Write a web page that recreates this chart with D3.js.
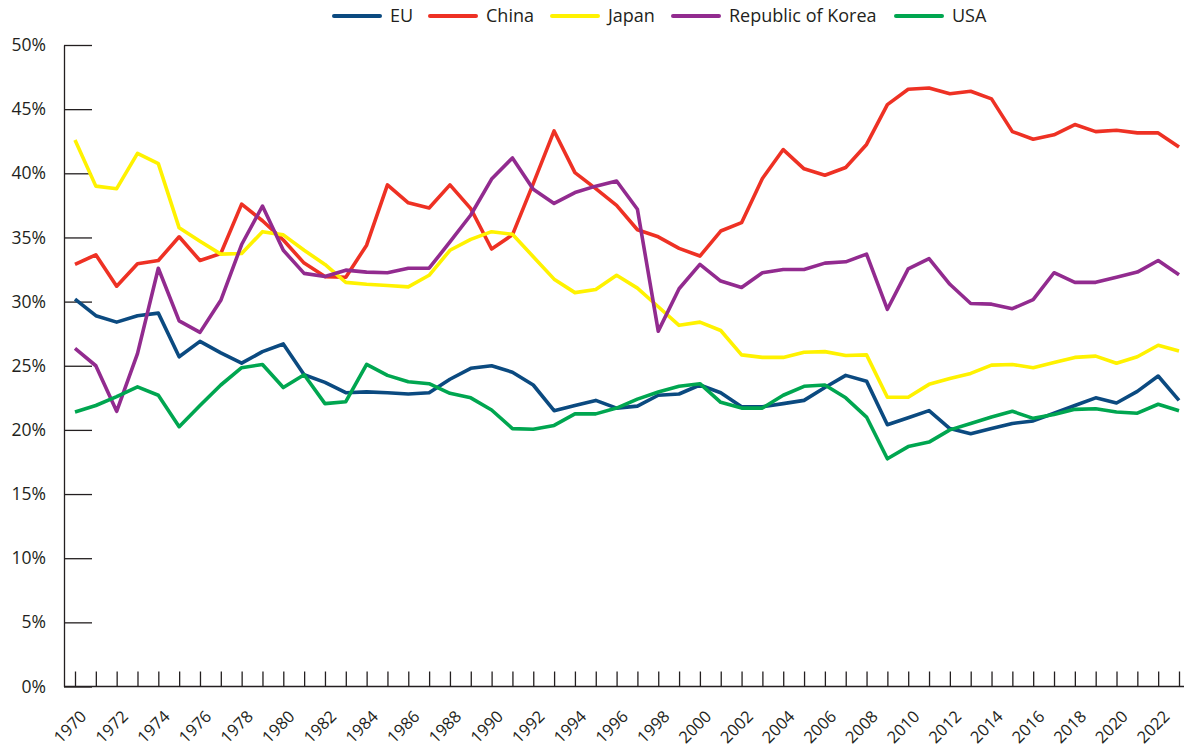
<!DOCTYPE html>
<html>
<head>
<meta charset="utf-8">
<script src="https://cdn.jsdelivr.net/npm/d3@7"></script>
<style>
body { margin: 0; background: #fff; }
svg { display: block; font-family: "Open Sans", sans-serif; }
</style>
</head>
<body>
<div id="chart"></div>
<script>
var W = 1184, H = 749;

var years = d3.range(1970, 2024);

var yTicks = [0, 5, 10, 15, 20, 25, 30, 35, 40, 45, 50];

var eu = [30.2, 28.9, 28.4, 28.9, 29.1, 25.7, 26.9, 26.0, 25.2, 26.1, 26.7, 24.3, 23.7, 22.9,
          22.96, 22.9, 22.8, 22.9, 23.95, 24.8, 25.0, 24.5, 23.5, 21.5, 21.9, 22.3, 21.7,
          21.85, 22.7, 22.8, 23.5, 22.9, 21.8, 21.8, 22.05, 22.3, 23.3, 24.25, 23.8, 20.4,
          20.95, 21.5, 20.1, 19.7, 20.1, 20.5, 20.7, 21.3, 21.9, 22.5, 22.1, 23.0, 24.2, 22.3];

var china = [32.9, 33.65, 31.2, 32.95, 33.2, 35.05, 33.2, 33.75, 37.6, 36.3, 34.8, 33.0, 31.95, 31.9,
             34.4, 39.1, 37.7, 37.3, 39.1, 37.25, 34.1, 35.2, 39.2, 43.3, 40.05, 38.8, 37.5,
             35.6, 35.05, 34.15, 33.55, 35.5, 36.15, 39.6, 41.85, 40.35, 39.85, 40.45, 42.25, 45.35,
             46.55, 46.65, 46.2, 46.4, 45.8, 43.25, 42.65, 43.0, 43.8, 43.25, 43.35, 43.15, 43.15, 42.05];

var japan = [42.6, 39.0, 38.8, 41.55, 40.75, 35.75, 34.7, 33.7, 33.75, 35.45, 35.2, 34.0, 32.9, 31.5,
             31.35, 31.25, 31.15, 32.05, 34.0, 34.85, 35.45, 35.25, 33.5, 31.75, 30.7, 30.95, 32.05,
             31.05, 29.6, 28.15, 28.4, 27.75, 25.85, 25.65, 25.65, 26.05, 26.1, 25.8, 25.85, 22.55,
             22.55, 23.55, 24.0, 24.4, 25.05, 25.1, 24.85, 25.25, 25.65, 25.75, 25.2, 25.7, 26.6, 26.15];

var korea = [26.35, 25.0, 21.45, 25.95, 32.6, 28.5, 27.6, 30.1, 34.45, 37.45, 34.0, 32.2, 31.95, 32.45,
             32.3, 32.25, 32.6, 32.6, 34.65, 36.75, 39.55, 41.2, 38.75, 37.65, 38.5, 39.0, 39.4,
             37.2, 27.7, 31.0, 32.9, 31.6, 31.1, 32.25, 32.5, 32.5, 33.0, 33.1, 33.7, 29.4,
             32.55, 33.35, 31.35, 29.85, 29.8, 29.45, 30.15, 32.25, 31.5, 31.5, 31.9, 32.3, 33.2, 32.1];

var usa = [21.4, 21.9, 22.6, 23.35, 22.7, 20.25, 21.9, 23.5, 24.85, 25.1, 23.3, 24.3, 22.05, 22.2,
           25.1, 24.25, 23.75, 23.6, 22.85, 22.5, 21.55, 20.1, 20.05, 20.35, 21.25, 21.25, 21.7,
           22.4, 22.95, 23.4, 23.6, 22.15, 21.7, 21.7, 22.7, 23.4, 23.5, 22.5, 21.0, 17.75,
           18.7, 19.05, 20.0, 20.5, 21.0, 21.45, 20.9, 21.2, 21.6, 21.65, 21.4, 21.3, 22.0, 21.5];

var series = [
    { name: "EU", values: eu, color: "#0b4a80" },
    { name: "China", values: china, color: "#ee3124" },
    { name: "Japan", values: japan, color: "#fff200" },
    { name: "Republic of Korea", values: korea, color: "#922b8f" },
    { name: "USA", values: usa, color: "#00a650" }
];

var INK = "#231f20";
var AXIS_X = 64;

var x = d3.scaleLinear().domain([1970, 2023]).range([75, 1179]);
var y = d3.scaleLinear().domain([0, 50]).range([686.5, 45]);

var svg = d3.select("#chart").append("svg")
    .attr("width", W)
    .attr("height", H);

// y axis: ticks pointing into the plot, labels on the left
var yAxis = d3.axisLeft(y)
    .tickValues(yTicks)
    .tickSizeInner(-28)
    .tickSizeOuter(0)
    .tickPadding(18)
    .tickFormat(function(d) { return d + "%"; });

var gy = svg.append("g")
    .attr("transform", "translate(" + AXIS_X + ",0)")
    .call(yAxis);
gy.selectAll("path, line").attr("stroke", INK).attr("stroke-width", 1.3);
gy.selectAll("text")
    .attr("fill", INK)
    .attr("font-size", 17.5)
    .attr("font-family", "'Open Sans', sans-serif");

// x axis: one small tick per year, labels every second year
var xAxis = d3.axisBottom(x)
    .tickValues(years)
    .tickSizeInner(-15)
    .tickSizeOuter(0)
    .tickFormat(function(d) { return d % 2 == 0 ? "" + d : ""; });

var gx = svg.append("g")
    .attr("transform", "translate(0," + y(0) + ")")
    .call(xAxis);
gx.select(".domain").remove();
gx.selectAll("line").attr("stroke", INK).attr("stroke-width", 1.3);
gx.selectAll("text")
    .attr("fill", INK)
    .attr("font-size", 16.5)
    .attr("font-family", "'Open Sans', sans-serif")
    .attr("text-anchor", "end")
    .attr("x", 0)
    .attr("y", 0)
    .attr("dy", null)
    .attr("transform", "translate(12,31) rotate(-45)");

svg.append("line")
    .attr("x1", AXIS_X)
    .attr("x2", W)
    .attr("y1", y(0))
    .attr("y2", y(0))
    .attr("stroke", INK)
    .attr("stroke-width", 1.3);

var line = d3.line()
    .x(function(d, i) { return x(years[i]); })
    .y(function(d) { return y(d); });

svg.selectAll(".series")
    .data(series).enter()
    .append("path")
    .attr("class", "series")
    .attr("fill", "none")
    .attr("stroke", function(d) { return d.color; })
    .attr("stroke-width", 3.6)
    .attr("stroke-linejoin", "round")
    .attr("d", function(d) { return line(d.values); });

// legend
var legendX = [334, 430, 552, 673, 896];
var legend = svg.selectAll(".legend")
    .data(series).enter()
    .append("g")
    .attr("class", "legend")
    .attr("transform", function(d, i) { return "translate(" + legendX[i] + ",16)"; });
legend.append("line")
    .attr("x1", 0)
    .attr("x2", 46)
    .attr("stroke", function(d) { return d.color; })
    .attr("stroke-width", 4)
    .attr("stroke-linecap", "round");
legend.append("text")
    .attr("x", 56)
    .attr("dy", "0.36em")
    .attr("fill", INK)
    .attr("font-size", 18)
    .text(function(d) { return d.name; });
</script>
</body>
</html>
